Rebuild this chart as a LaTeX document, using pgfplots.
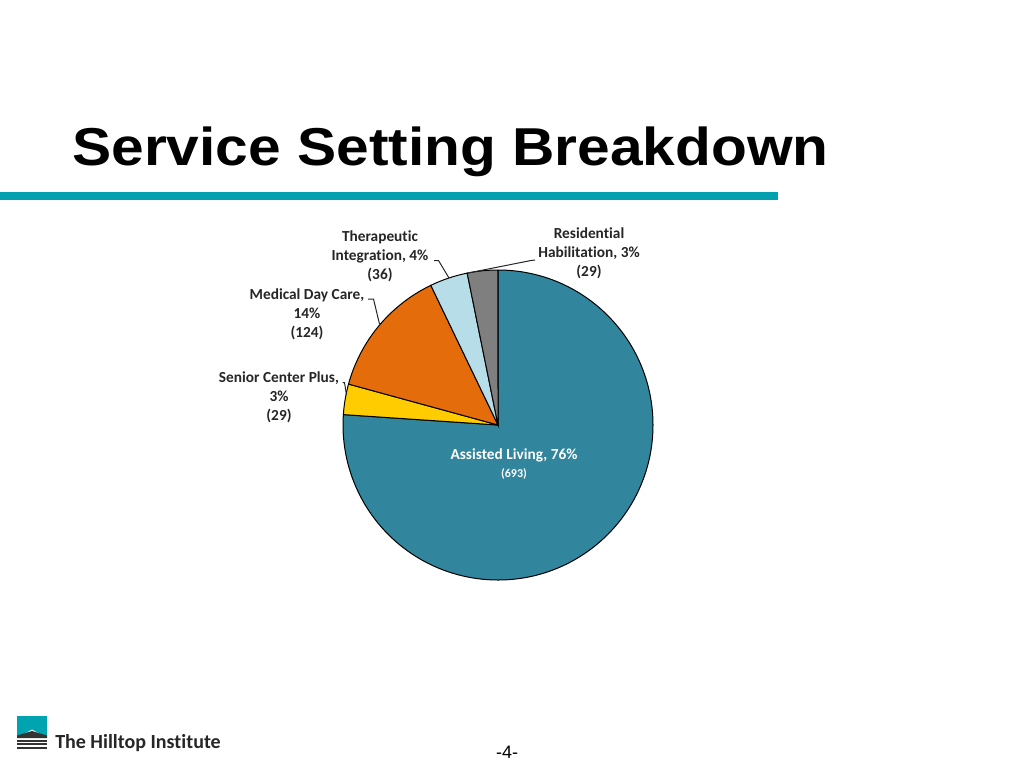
\documentclass[border=0pt]{standalone}
\usepackage{pgfplots}
\pgfplotsset{compat=1.18}
\usepackage{pgfplotstable}
\usepackage{fontspec}
\setmainfont{Liberation Sans}
\newfontfamily\calfont[Ligatures=NoCommon]{Carlito}
\definecolor{alc}{HTML}{31859C}
\definecolor{scp}{HTML}{FFCC00}
\definecolor{mdc}{HTML}{E46C0A}
\definecolor{tic}{HTML}{B7DEE8}
\definecolor{rhc}{HTML}{7F7F7F}
\definecolor{bar}{HTML}{00A0AE}
\definecolor{lbl}{HTML}{262626}
\definecolor{logo}{HTML}{00A3B0}

\pgfplotstableread[col sep=comma]{
name,value
Assisted Living,693
Senior Center Plus,29
Medical Day Care,124
Therapeutic Integration,36
Residential Habilitation,29
}\piedata
\pgfplotstablegetelem{0}{value}\of\piedata\edef\vA{\pgfplotsretval}
\pgfplotstablegetelem{1}{value}\of\piedata\edef\vB{\pgfplotsretval}
\pgfplotstablegetelem{2}{value}\of\piedata\edef\vC{\pgfplotsretval}
\pgfplotstablegetelem{3}{value}\of\piedata\edef\vD{\pgfplotsretval}
\pgfplotstablegetelem{4}{value}\of\piedata\edef\vE{\pgfplotsretval}
\pgfmathsetmacro\tot{\vA+\vB+\vC+\vD+\vE}
\pgfmathsetmacro\aA{90}
\pgfmathsetmacro\aB{\aA-360*(\vA/\tot)}
\pgfmathsetmacro\aC{\aB-360*(\vB/\tot)}
\pgfmathsetmacro\aD{\aC-360*(\vC/\tot)}
\pgfmathsetmacro\aE{\aD-360*(\vD/\tot)}
\pgfmathsetmacro\aF{\aE-360*(\vE/\tot)}

\begin{document}
\begin{tikzpicture}[x=0.75pt,y=-0.75pt]
\path[fill=white] (0,0) rectangle (1024,768);
% title
\node[anchor=base west,inner sep=0pt,font=\fontsize{40}{46}\selectfont\bfseries] at (72,165) {\scalebox{1.1}[1]{Service Setting Breakdown}};
\fill[bar] (0,192) rectangle (778,200);
\coordinate (pc) at (498,425);
\begin{axis}[at={(pc)},anchor=center,scale only axis,width=232.5pt,height=232.5pt,
  xmin=-1,xmax=1,ymin=-1,ymax=1,hide axis,clip=false]
\filldraw[fill=alc,draw=black,line width=0.75pt] (axis cs:0,0) -- (axis cs:{cos(\aA)},{sin(\aA)}) arc[start angle=\aA,end angle=\aB,radius=116.25pt] -- cycle;
\filldraw[fill=scp,draw=black,line width=0.75pt] (axis cs:0,0) -- (axis cs:{cos(\aB)},{sin(\aB)}) arc[start angle=\aB,end angle=\aC,radius=116.25pt] -- cycle;
\filldraw[fill=mdc,draw=black,line width=0.75pt] (axis cs:0,0) -- (axis cs:{cos(\aC)},{sin(\aC)}) arc[start angle=\aC,end angle=\aD,radius=116.25pt] -- cycle;
\filldraw[fill=tic,draw=black,line width=0.75pt] (axis cs:0,0) -- (axis cs:{cos(\aD)},{sin(\aD)}) arc[start angle=\aD,end angle=\aE,radius=116.25pt] -- cycle;
\filldraw[fill=rhc,draw=black,line width=0.75pt] (axis cs:0,0) -- (axis cs:{cos(\aE)},{sin(\aE)}) arc[start angle=\aE,end angle=\aF,radius=116.25pt] -- cycle;
\end{axis}
% leader lines
\draw[black!85,line width=0.75pt] (434,260.5) -- (438.5,260.5) -- (449,278);
\draw[black!85,line width=0.75pt] (535,260) -- (531,260.5) -- (468,273);
\draw[black!85,line width=0.75pt] (368,299) -- (373.5,299) -- (379.5,324);
\draw[black!85,line width=0.75pt] (342.5,382.5) -- (344.5,382.5) -- (346.5,395);
% labels
\begin{scope}[every node/.style={align=center,inner sep=0pt,text=lbl,font=\calfont\bfseries\fontsize{11.5}{14.25}\selectfont}]
\node at (380,256) {Therapeutic\\Integration, 4\%\\(36)};
\node at (589,253) {Residential\\Habilitation, 3\%\\(29)};
\node at (307,314) {Medical Day Care,\\14\%\\(124)};
\node at (279,397) {Senior Center Plus,\\3\%\\(29)};
\node[text=white] at (514,455) {Assisted Living, 76\%};
\node[text=white,font=\calfont\bfseries\fontsize{9}{11}\selectfont] at (514,474) {(693)};
\end{scope}
% logo
\fill[logo] (17,716) rectangle (47,738);
\fill[white] (17,738) -- (32,729.5) -- (47,738) -- cycle;
\fill[black!80] (17,735.5) -- (32,731) -- (47,735.5) -- (47,738) -- (17,738) -- cycle;
\fill[black!80] (17,739.5) rectangle (47,741.5);
\fill[black!80] (17,743) rectangle (47,745);
\fill[black!80] (17,746.5) rectangle (47,748.5);
\node[anchor=base west,inner sep=0pt,text=black!85,font=\calfont\bfseries\fontsize{15}{18}\selectfont] at (55,748) {The Hilltop Institute};
\node[anchor=base,inner sep=0pt,font=\fontsize{13.5}{16}\selectfont] at (507,758) {-4-};
\pgfresetboundingbox
\path[use as bounding box] (0,0) rectangle (1024,768);
\end{tikzpicture}%
\end{document}
